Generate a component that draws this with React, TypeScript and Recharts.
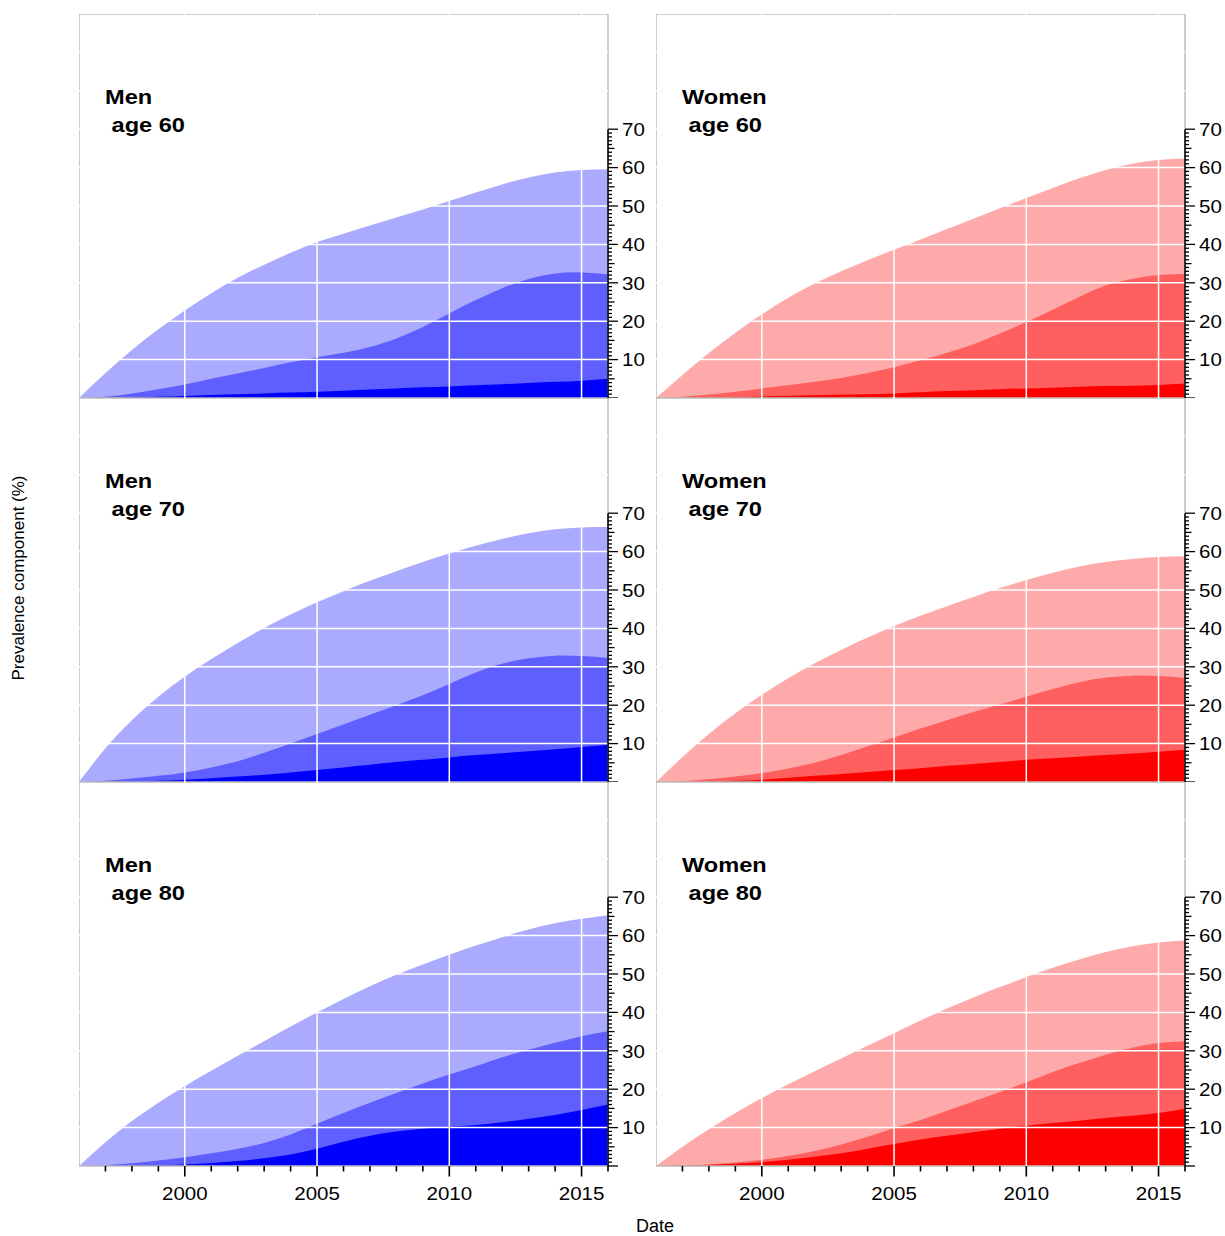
import { Area, AreaChart, ReferenceArea, ReferenceLine, XAxis, YAxis } from "recharts";

const years = [1996, 1997, 1998, 1999, 2000, 2001, 2002, 2003, 2004, 2005, 2006, 2007, 2008, 2009, 2010, 2011, 2012, 2013, 2014, 2015, 2016];

const men60Outer = [0, 6.5, 12.5, 17.9, 22.8, 27.3, 31.3, 34.7, 37.8, 40.6, 42.8, 44.9, 47, 49.1, 51.3, 53.5, 55.6, 57.4, 58.7, 59.4, 59.6];
const men60Middle = [0, 0.3, 1.2, 2.3, 3.5, 5, 6.4, 7.8, 9.3, 10.6, 11.8, 13.3, 15.5, 18.5, 22, 25.5, 28.6, 31, 32.4, 32.7, 32.2];
const men60Inner = [0, 0, 0.1, 0.3, 0.5, 0.8, 1.0, 1.2, 1.4, 1.6, 1.9, 2.2, 2.5, 2.8, 3.0, 3.3, 3.6, 3.9, 4.2, 4.5, 5.0];

const women60Outer = [0, 6, 11.7, 17, 21.8, 26.1, 29.8, 33, 35.9, 38.6, 41.3, 44, 46.7, 49.4, 52.1, 54.7, 57.2, 59.4, 61, 62, 62.4];
const women60Middle = [0, 0.3, 0.9, 1.6, 2.5, 3.3, 4.2, 5.2, 6.5, 8, 9.8, 11.8, 14, 16.8, 19.8, 23, 26.3, 29.3, 31, 32, 32.3];
const women60Inner = [0, 0, 0.1, 0.2, 0.4, 0.6, 0.7, 0.9, 1.0, 1.2, 1.5, 1.8, 2.0, 2.3, 2.5, 2.7, 2.9, 3.1, 3.2, 3.4, 3.8];

const men70Outer = [0, 8.8, 16.1, 22.2, 27.4, 32, 36.2, 40.1, 43.6, 46.8, 49.7, 52.4, 54.9, 57.3, 59.5, 61.5, 63.3, 64.8, 65.8, 66.3, 66.4];
const men70Middle = [0, 0.3, 0.9, 1.6, 2.5, 3.8, 5.4, 7.6, 10, 12.5, 15, 17.5, 20, 22.6, 25.5, 28.5, 30.8, 32.2, 32.9, 32.8, 32.3];
const men70Inner = [0, 0, 0.1, 0.3, 0.6, 1.0, 1.4, 1.9, 2.5, 3.1, 3.8, 4.5, 5.2, 5.8, 6.4, 7.0, 7.5, 8.0, 8.5, 9.1, 9.7];

const women70Outer = [0, 6.5, 12.5, 17.9, 22.7, 27, 30.9, 34.4, 37.6, 40.6, 43.3, 45.8, 48.2, 50.5, 52.6, 54.5, 56.1, 57.3, 58.1, 58.6, 58.8];
const women70Middle = [0, 0.2, 0.7, 1.4, 2.3, 3.5, 5, 7, 9.3, 11.6, 13.9, 16.1, 18.2, 20.2, 22.2, 24.2, 26, 27.2, 27.7, 27.6, 27.1];
const women70Inner = [0, 0, 0.1, 0.3, 0.6, 1.1, 1.6, 2.1, 2.6, 3.1, 3.6, 4.2, 4.7, 5.2, 5.8, 6.2, 6.6, 7.0, 7.4, 7.9, 8.4];

const men80Outer = [0, 6.2, 11.7, 16.5, 20.8, 24.8, 28.7, 32.5, 36.3, 40, 43.5, 46.8, 49.8, 52.5, 55, 57.4, 59.6, 61.6, 63.2, 64.4, 65.3];
const men80Middle = [0, 0.2, 0.7, 1.4, 2.3, 3.3, 4.5, 6, 8.2, 11, 13.8, 16.5, 19, 21.5, 23.8, 26, 28.3, 30.3, 32.1, 33.8, 35.1];
const men80Inner = [0, 0, 0.1, 0.2, 0.4, 0.8, 1.3, 2.0, 3.0, 4.5, 6.3, 7.9, 9.0, 9.7, 10.2, 10.7, 11.4, 12.3, 13.3, 14.6, 16];

const women80Outer = [0, 5, 9.6, 13.8, 17.7, 21.3, 24.7, 28, 31.3, 34.6, 37.9, 41, 43.9, 46.6, 49.2, 51.6, 53.8, 55.7, 57.2, 58.2, 58.7];
const women80Middle = [0, 0.1, 0.4, 0.9, 1.6, 2.6, 3.9, 5.6, 7.6, 9.9, 12, 14.4, 16.8, 19.3, 21.8, 24.5, 26.8, 29, 30.8, 32, 32.5];
const women80Inner = [0, 0.1, 0.3, 0.6, 1.0, 1.6, 2.4, 3.3, 4.5, 5.7, 6.9, 7.9, 8.8, 9.7, 10.5, 11.2, 11.8, 12.5, 13.1, 13.8, 14.9];

const xTicks = years.slice(1);
const xLabels = [2000, 2005, 2010, 2015];
const yTicks = Array.from({ length: 71 }, (_, i) => i);
const yLabels = [10, 20, 30, 40, 50, 60, 70];
const gridY = [10, 20, 30, 40, 50, 60, 70, 80, 90];

const blues = ["#aaaaff", "#5f5fff", "#0000ff"];
const reds = ["#ffaaaa", "#ff5f5f", "#ff0000"];

const FONT = "'Liberation Sans', Arial, sans-serif";

const panels = [
  { who: "Men", age: 60, col: 0, row: 0, colors: blues, layers: [men60Outer, men60Middle, men60Inner] },
  { who: "Women", age: 60, col: 1, row: 0, colors: reds, layers: [women60Outer, women60Middle, women60Inner] },
  { who: "Men", age: 70, col: 0, row: 1, colors: blues, layers: [men70Outer, men70Middle, men70Inner] },
  { who: "Women", age: 70, col: 1, row: 1, colors: reds, layers: [women70Outer, women70Middle, women70Inner] },
  { who: "Men", age: 80, col: 0, row: 2, colors: blues, layers: [men80Outer, men80Middle, men80Inner] },
  { who: "Women", age: 80, col: 1, row: 2, colors: reds, layers: [women80Outer, women80Middle, women80Inner] },
];

const PLOT_W = 529;
const PLOT_H = 384;
const AXIS_W = 40;
const colLeft = [79, 656];
const rowTop = [14, 398, 782];

const YTick = (props: any) => {
  const { x, y, payload } = props;
  const v = payload.value;
  const len = v % 10 === 0 ? 10 : v % 5 === 0 ? 6.5 : 4;
  return (
    <g>
      <line x1={x} y1={y} x2={x + len} y2={y} stroke="#000" strokeWidth={1.3} />
      {yLabels.includes(v) && (
        <text transform={`translate(${x + 14} ${y}) scale(1.08 1)`} dy="0.36em" fontSize={19} fontFamily={FONT} fill="#000">{v}</text>
      )}
    </g>
  );
};

const XTick = (props: any) => {
  const { x, y, payload } = props;
  const v = payload.value;
  const len = v % 5 === 0 ? 10.5 : 5.5;
  return (
    <g>
      <line x1={x} y1={y} x2={x} y2={y + len} stroke="#000" strokeWidth={1.6} />
      {xLabels.includes(v) && (
        <text transform={`translate(${x} ${y + 34}) scale(1.08 1)`} textAnchor="middle" fontSize={19} fontFamily={FONT} fill="#000">{v}</text>
      )}
    </g>
  );
};

const Panel = ({ p }: { p: typeof panels[number] }) => {
  const data = years.map((year, i) => ({
    year,
    outer: p.layers[0][i],
    middle: p.layers[1][i],
    inner: p.layers[2][i],
  }));
  const bottom = p.row === 2;
  return (
    <div style={{ position: "absolute", left: colLeft[p.col], top: rowTop[p.row] }}>
      <AreaChart
        width={PLOT_W + AXIS_W}
        height={PLOT_H + (bottom ? 50 : 0)}
        data={data}
        margin={{ top: 0, right: 0, bottom: 0, left: 0 }}
      >
        <XAxis
          dataKey="year"
          type="number"
          domain={[1996, 2016]}
          ticks={xTicks}
          interval={0}
          allowDataOverflow
          hide={!bottom}
          height={50}
          axisLine={false}
          tickLine={false}
          tickSize={0}
          tickMargin={0}
          tick={<XTick />}
        />
        <YAxis
          orientation="right"
          type="number"
          domain={[0, 100]}
          ticks={yTicks}
          interval={0}
          allowDataOverflow
          width={AXIS_W}
          axisLine={false}
          tickLine={false}
          tickSize={0}
          tickMargin={0}
          tick={<YTick />}
        />
        <Area type="natural" dataKey="outer" stroke="none" fill={p.colors[0]} fillOpacity={1} isAnimationActive={false} />
        <Area type="natural" dataKey="middle" stroke="none" fill={p.colors[1]} fillOpacity={1} isAnimationActive={false} />
        <Area type="natural" dataKey="inner" stroke="none" fill={p.colors[2]} fillOpacity={1} isAnimationActive={false} />
        {gridY.map(v => (
          <ReferenceLine key={"h" + v} y={v} stroke="#fff" strokeWidth={1.5} />
        ))}
        {xLabels.map(v => (
          <ReferenceLine key={"v" + v} x={v} stroke="#fff" strokeWidth={1.5} />
        ))}
        <ReferenceArea x1={1996} x2={2016} y1={0} y2={100} fill="none" fillOpacity={0} stroke="#bdbdbd" strokeWidth={1.5} ifOverflow="visible" />
        <ReferenceLine segment={[{ x: 2016, y: 0 }, { x: 2016, y: 70 }]} stroke="#000" strokeWidth={1.5} ifOverflow="visible" />
      </AreaChart>
    </div>
  );
};

const App = () => {
  return (
    <div style={{ position: "absolute", left: 0, top: 0, width: 1225, height: 1236, overflow: "hidden", background: "#fff" }}>
      {panels.map(p => (
        <Panel key={p.who + p.age} p={p} />
      ))}
      <svg width={1225} height={1236} style={{ position: "absolute", left: 0, top: 0, pointerEvents: "none" }}>
        {panels.map(p => (
          <g key={"t" + p.who + p.age} fontFamily={FONT} fontSize={20} fontWeight="bold" fill="#000">
            <text transform={`translate(${colLeft[p.col] + 26} ${rowTop[p.row] + 90}) scale(1.18 1)`}>{p.who}</text>
            <text transform={`translate(${colLeft[p.col] + 26} ${rowTop[p.row] + 118}) scale(1.18 1)`} style={{ whiteSpace: "pre" }}>{" age " + p.age}</text>
          </g>
        ))}
        <text x={24} y={578} transform="rotate(-90 24 578)" textAnchor="middle" fontFamily={FONT} fontSize={17} fill="#000">
          Prevalence component (%)
        </text>
        <text x={655} y={1232} textAnchor="middle" fontFamily={FONT} fontSize={18} fill="#000">
          Date
        </text>
      </svg>
    </div>
  );
};

export default App;
